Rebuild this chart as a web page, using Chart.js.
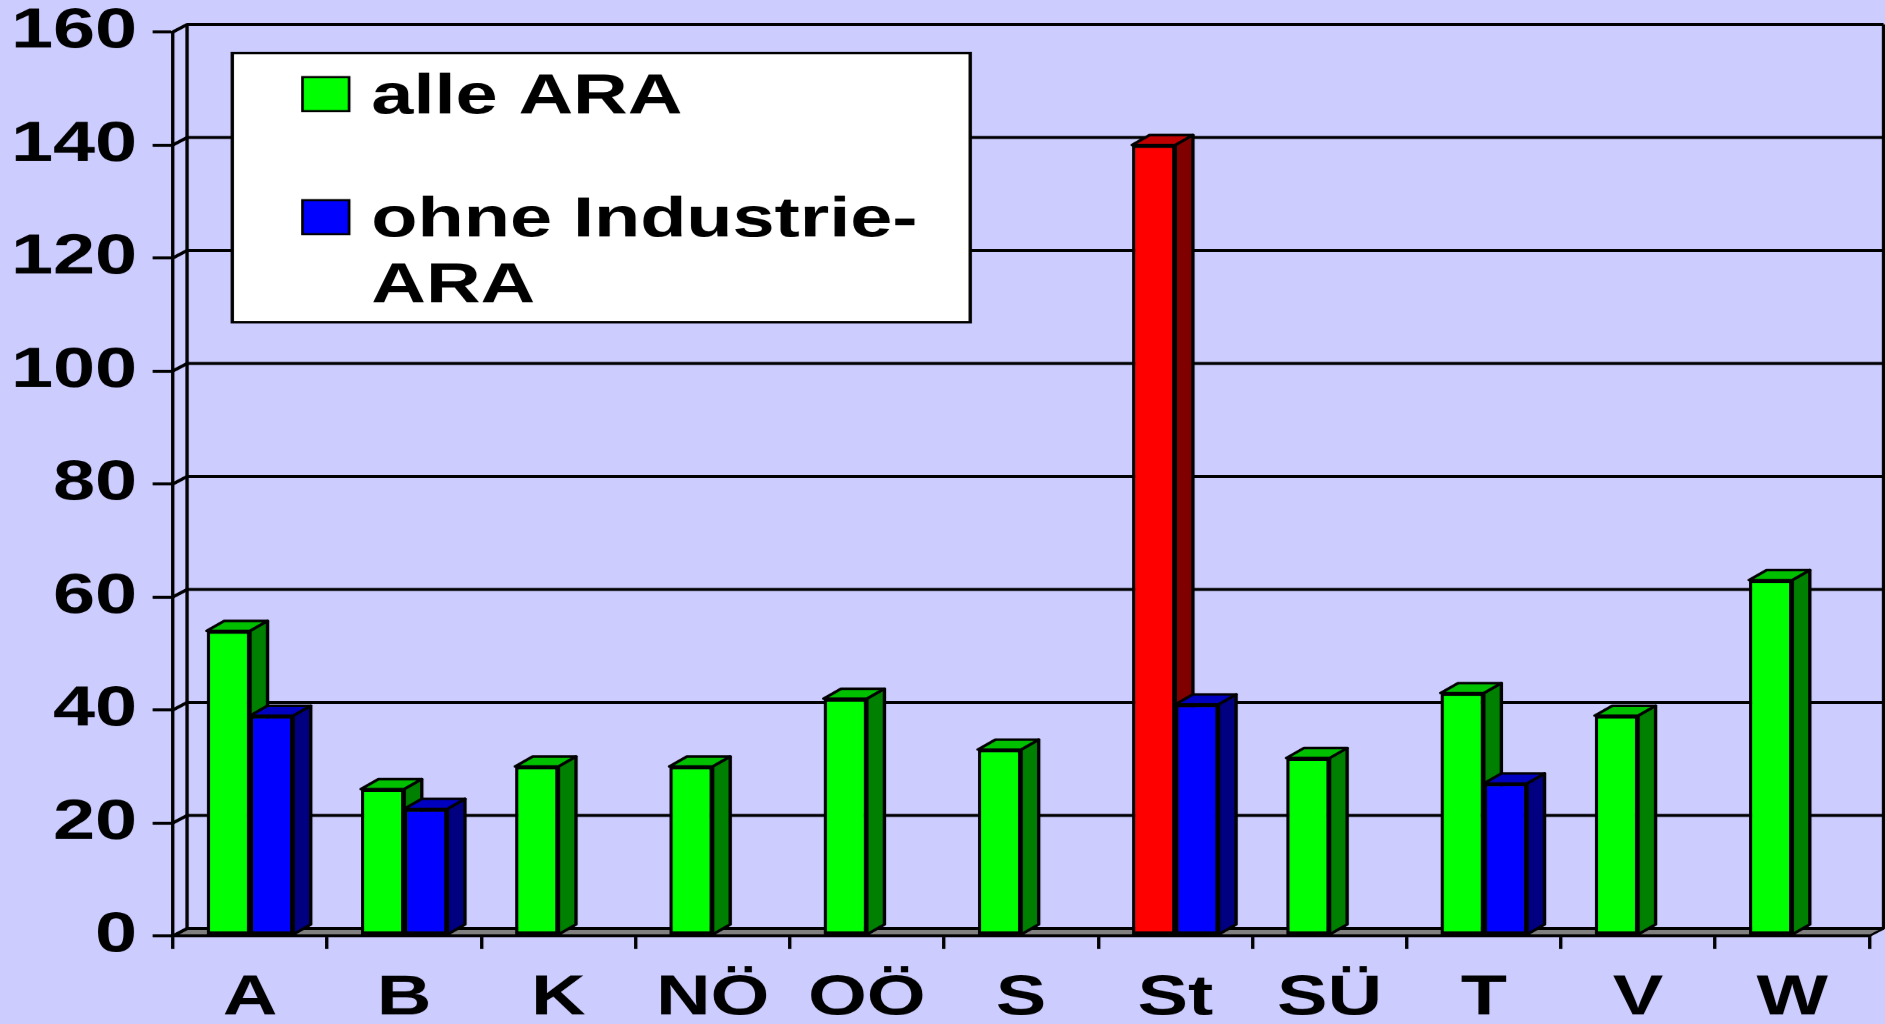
<!DOCTYPE html>
<html>
<head>
<meta charset="utf-8">
<script src="https://cdn.jsdelivr.net/npm/chart.js@4"></script>
<style>
  html, body { margin: 0; padding: 0; background: #ccccff; overflow: hidden; }
  /* the original picture is stretched sideways, so the whole chart is too */
  #wrap { width: 1396px; height: 1024px; transform: scaleX(1.3503); transform-origin: 0 0; }
</style>
</head>
<body>
<div id="wrap"><canvas id="chart"></canvas></div>
<script>
const categories = ['A', 'B', 'K', 'NÖ', 'OÖ', 'S', 'St', 'SÜ', 'T', 'V', 'W'];
const alleAra = [54, 26, 30, 30, 42, 33, 140, 31.5, 43, 39, 63];
const ohneIndustrie = [39, 22.5, null, null, null, null, 41, null, 27, null, null];
const seriesLabels = ['alle ARA', 'ohne Industrie-ARA'];
const yTicks = [0, 20, 40, 60, 80, 100, 120, 140, 160];
const highlight = 'St';

const STRETCH = 1885 / 1396;
const GREEN = '#00ff00', BLUE = '#0000ff', RED = '#ff0000';
const shades = {
  [GREEN]: { side: '#008000', top: '#00c000' },
  [BLUE]: { side: '#000080', top: '#0000c0' },
  [RED]: { side: '#800000', top: '#c00000' }
};
const WALL_DX = 10.5, WALL_DY = -7.5;
const BAR_DX = 13, BAR_DY = -10;
const font = { family: '"Liberation Sans", Arial, sans-serif', size: 56, weight: 'bold' };

function poly(ctx, pts, fill) {
  ctx.beginPath();
  ctx.moveTo(pts[0][0], pts[0][1]);
  for (let i = 1; i < pts.length; i++) ctx.lineTo(pts[i][0], pts[i][1]);
  ctx.closePath();
  ctx.fillStyle = fill;
  ctx.fill();
  ctx.stroke();
}

// background, back wall with its grid, left wall and grey floor
const backdrop = {
  id: 'backdrop',
  beforeDraw(chart) {
    const { ctx, chartArea: a, scales: { y } } = chart;
    ctx.save();
    ctx.fillStyle = '#ccccff';
    ctx.fillRect(0, 0, chart.width, chart.height);
    const x0 = a.left;
    const bx0 = x0 + WALL_DX, bx1 = a.right + WALL_DX;
    const yb = y.getPixelForValue(yTicks[0]);
    const yt = y.getPixelForValue(yTicks[yTicks.length - 1]);
    ctx.strokeStyle = '#000';
    ctx.lineJoin = 'round';

    ctx.lineWidth = 2;
    poly(ctx, [[x0, yb], [a.right, yb], [bx1, yb + WALL_DY], [bx0, yb + WALL_DY]], '#808080');

    ctx.lineWidth = 3;
    yTicks.forEach(v => {
      const py = y.getPixelForValue(v);
      ctx.beginPath();
      ctx.moveTo(x0, py);
      ctx.lineTo(bx0, py + WALL_DY);
      ctx.lineTo(bx1, py + WALL_DY);
      ctx.stroke();
    });

    ctx.lineWidth = 2.5;
    ctx.beginPath();
    ctx.moveTo(bx0, yt + WALL_DY); ctx.lineTo(bx0, yb + WALL_DY);
    ctx.moveTo(bx1, yt + WALL_DY); ctx.lineTo(bx1, yb + WALL_DY);
    ctx.stroke();
    ctx.restore();
  }
};

// redraw the bars series by series, each front face followed by its side and top,
// so the blue bar hides the lower part of the green bar's side
const bars3d = {
  id: 'bars3d',
  afterDatasetsDraw(chart) {
    const { ctx, chartArea } = chart;
    chart.data.datasets.forEach((ds, di) => {
      const meta = chart.getDatasetMeta(di);
      meta.data.forEach((bar, i) => {
        if (ds.data[i] == null) return;
        bar.draw(ctx, chartArea);
        const { x, y, base, width } = bar.getProps(['x', 'y', 'base', 'width'], true);
        const l = x - width / 2, r = x + width / 2;
        const col = Array.isArray(ds.backgroundColor) ? ds.backgroundColor[i] : ds.backgroundColor;
        const shade = shades[col];
        ctx.save();
        ctx.strokeStyle = '#000';
        ctx.lineWidth = 2.5;
        ctx.lineJoin = 'round';
        poly(ctx, [[r, y], [r + BAR_DX, y + BAR_DY], [r + BAR_DX, base + BAR_DY], [r, base]], shade.side);
        poly(ctx, [[l, y], [l + BAR_DX, y + BAR_DY], [r + BAR_DX, y + BAR_DY], [r, y]], shade.top);
        ctx.restore();
      });
    });
  }
};

// boxed legend, second label wraps after the hyphen
const legendBox = {
  id: 'legendBox',
  afterDraw(chart) {
    const { ctx } = chart;
    const box = { x: 172, y: 53, w: 546.5, h: 269 };
    ctx.save();
    ctx.fillStyle = '#fff';
    ctx.fillRect(box.x, box.y, box.w, box.h);
    ctx.strokeStyle = '#000';
    ctx.lineWidth = 2.5;
    ctx.strokeRect(box.x, box.y, box.w, box.h);

    const rows = [{ sq: 77, base: 113.5 }, { sq: 200, base: 236 }];
    ctx.font = 'bold 56px "Liberation Sans", Arial, sans-serif';
    ctx.textBaseline = 'alphabetic';
    chart.data.datasets.forEach((ds, i) => {
      const row = rows[i];
      ctx.fillStyle = ds.legendColor;
      ctx.fillRect(224, row.sq, 34.5, 34);
      ctx.lineWidth = 2;
      ctx.strokeRect(224, row.sq, 34.5, 34);
      ctx.fillStyle = '#000';
      ds.label.replace(/-/g, '-\n').split('\n').forEach((line, k) => {
        ctx.fillText(line, 275, row.base + k * 66);
      });
    });
    ctx.restore();
  }
};

const barStyle = {
  borderColor: '#000',
  borderWidth: { top: 3, bottom: 3, left: 2.4, right: 2.4 },
  borderSkipped: false,
  categoryPercentage: 0.56,
  barPercentage: 1
};

new Chart(document.getElementById('chart'), {
  type: 'bar',
  data: {
    labels: categories,
    datasets: [
      {
        label: seriesLabels[0],
        data: alleAra,
        backgroundColor: categories.map(c => c === highlight ? RED : GREEN),
        legendColor: GREEN,
        ...barStyle
      },
      {
        label: seriesLabels[1],
        data: ohneIndustrie,
        backgroundColor: BLUE,
        legendColor: BLUE,
        ...barStyle
      }
    ]
  },
  options: {
    responsive: true,
    maintainAspectRatio: false,
    devicePixelRatio: STRETCH,
    animation: false,
    events: [],
    layout: { padding: { top: 32, right: 11.6, bottom: 0, left: 0 } },
    plugins: {
      legend: { display: false },
      tooltip: { enabled: false },
      title: { display: false }
    },
    scales: {
      x: {
        offset: true,
        grid: { display: true, drawOnChartArea: false, offset: true, tickLength: 13, lineWidth: 2.5, color: '#000' },
        border: { display: true, color: '#000', width: 3 },
        ticks: { font, color: '#000', padding: 16, maxRotation: 0, autoSkip: false },
        afterFit(s) { s.height = 88.5; s.paddingLeft = 0; s.paddingRight = 0; }
      },
      y: {
        min: yTicks[0],
        max: yTicks[yTicks.length - 1],
        afterBuildTicks(s) { s.ticks = yTicks.map(v => ({ value: v })); },
        grid: { display: true, drawOnChartArea: false, tickLength: 15, lineWidth: 3, color: '#000' },
        border: { display: true, color: '#000', width: 2.5 },
        ticks: { font, color: '#000', padding: 11.5 },
        afterFit(s) { s.width = 128; s.paddingTop = 0; s.paddingBottom = 0; }
      }
    }
  },
  plugins: [backdrop, bars3d, legendBox]
});
</script>
</body>
</html>
